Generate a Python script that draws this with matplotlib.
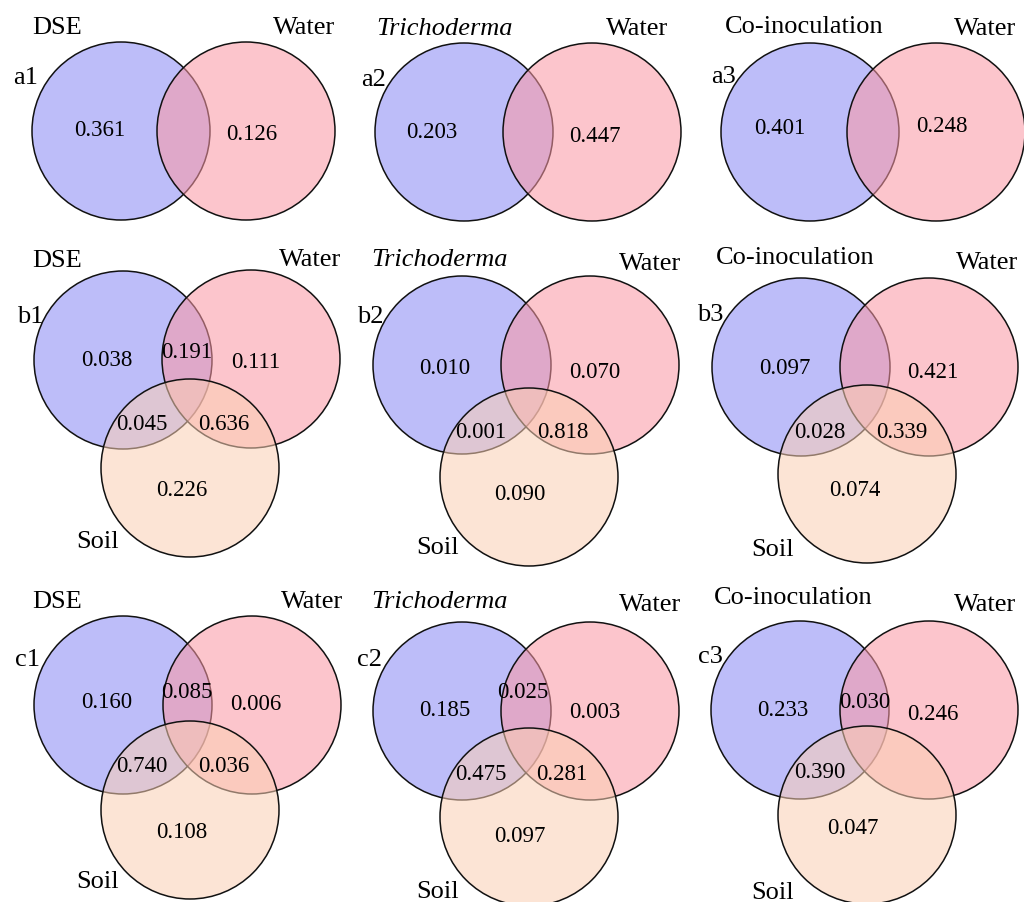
import matplotlib.pyplot as plt
from matplotlib.patches import Circle

# ---- data ----
groups = ['DSE', 'Trichoderma', 'Co-inoculation']
tags_a = ['a1', 'a2', 'a3']
tags_b = ['b1', 'b2', 'b3']
tags_c = ['c1', 'c2', 'c3']

# two-set panels: [group only, water only]
vals_a = [[0.361, 0.126],
          [0.203, 0.447],
          [0.401, 0.248]]
# three-set panels: [group only, group&water, water only, group&soil, water&soil, soil only]
vals_b = [[0.038, 0.191, 0.111, 0.045, 0.636, 0.226],
          [0.010, None, 0.070, 0.001, 0.818, 0.090],
          [0.097, None, 0.421, 0.028, 0.339, 0.074]]
vals_c = [[0.160, 0.085, 0.006, 0.740, 0.036, 0.108],
          [0.185, 0.025, 0.003, 0.475, 0.281, 0.097],
          [0.233, 0.030, 0.246, 0.390, None, 0.047]]

# ---- layout (pixels, y downwards) ----
R = 89
centers_a = [[(121, 131), (246, 131)],
             [(464, 132), (592, 132)],
             [(810, 132), (936, 132)]]
centers_b = [[(123, 360), (251, 359), (190, 468)],
             [(462, 365), (590, 365), (529, 477)],
             [(801, 367), (929, 367), (867, 474)]]
centers_c = [[(123, 705), (252, 705), (190, 810)],
             [(462, 711), (590, 711), (529, 817)],
             [(800, 710), (929, 710), (867, 815)]]

valpos_a = [[(100, 130), (252, 135)],
            [(432, 132), (595, 137)],
            [(780, 128), (942, 127)]]
valpos_b = [[(107, 360), (187, 352), (256, 363), (142, 425), (224, 425), (182, 490)],
            [(445, 368), (523, 355), (595, 373), (481, 432), (563, 432), (520, 495)],
            [(785, 368), (865, 360), (933, 372), (820, 432), (902, 432), (855, 490)]]
valpos_c = [[(107, 703), (187, 693), (256, 705), (142, 767), (224, 767), (182, 832)],
            [(445, 710), (523, 692), (595, 713), (481, 775), (562, 775), (520, 837)],
            [(783, 710), (865, 703), (933, 715), (820, 772), (902, 775), (853, 828)]]

grp_pos = [[(57, 28), (445, 29), (804, 27)],
           [(57, 261), (440, 260), (795, 258)],
           [(57, 602), (440, 602), (793, 598)]]
water_pos = [[(304, 28), (637, 29), (985, 29)],
             [(310, 260), (650, 264), (987, 263)],
             [(312, 602), (650, 605), (985, 605)]]
tag_pos = [[(26, 78), (374, 80), (724, 77)],
           [(30, 317), (370, 317), (710, 315)],
           [(28, 660), (370, 660), (710, 657)]]
soil_pos = [None,
            [(98, 542), (438, 548), (773, 550)],
            [(98, 882), (438, 892), (773, 893)]]

colors = [(136/255, 136/255, 245/255, 0.55),
          (250/255, 152/255, 165/255, 0.56),
          (251/255, 207/255, 180/255, 0.55)]

plt.rcParams['font.family'] = ['Liberation Serif', 'DejaVu Serif']
fs_num = 16.5
fs_lab = 19

fig = plt.figure(figsize=(10.24, 9.02), dpi=100)
ax = fig.add_axes([0, 0, 1, 1])
ax.set_xlim(0, 1024)
ax.set_ylim(902, 0)
ax.axis('off')

rows = [(centers_a, vals_a, valpos_a, tags_a),
        (centers_b, vals_b, valpos_b, tags_b),
        (centers_c, vals_c, valpos_c, tags_c)]

for r, (cents, vals, vpos, tags) in enumerate(rows):
    for p in range(3):
        for k, (cx, cy) in enumerate(cents[p]):
            ax.add_patch(Circle((cx, cy), R, facecolor=colors[k], edgecolor='#111111', lw=1.1))
        for v, (x, y) in zip(vals[p], vpos[p]):
            if v is None:
                continue
            ax.text(x, y, '%.3f' % v, fontsize=fs_num, ha='center', va='center')
        gx, gy = grp_pos[r][p]
        ax.text(gx, gy, groups[p], fontsize=fs_lab, ha='center', va='center',
                style='italic' if groups[p] == 'Trichoderma' else 'normal')
        wx, wy = water_pos[r][p]
        ax.text(wx, wy, 'Water', fontsize=fs_lab, ha='center', va='center')
        tx, ty = tag_pos[r][p]
        ax.text(tx, ty, tags[p], fontsize=fs_lab, ha='center', va='center')
        if soil_pos[r] is not None:
            sx, sy = soil_pos[r][p]
            ax.text(sx, sy, 'Soil', fontsize=fs_lab, ha='center', va='center')

fig.savefig('out.png', dpi=100)
